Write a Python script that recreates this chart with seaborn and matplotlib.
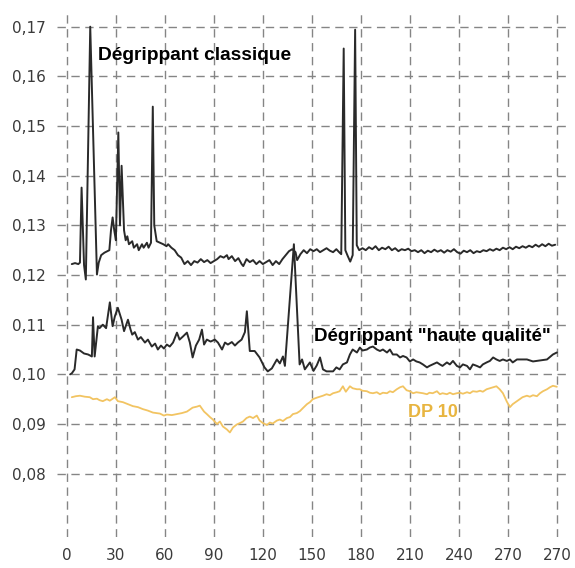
import matplotlib
matplotlib.use("Agg")
import matplotlib.pyplot as plt
import seaborn as sns
import pandas as pd

# Dégrippant classique
x_classique = [3, 5, 7, 8, 9, 10.5, 11.6, 14.3, 18.4, 19.5, 21, 23, 26, 27, 28, 29, 30, 31.5, 32.5,
               33.5, 35, 36, 37, 38, 40, 41, 43, 44, 46, 47, 49, 50, 51.5, 52.6, 53.5, 55, 57, 59,
               61, 62, 64, 66, 68, 70, 72, 74, 76, 78, 80, 82, 84, 86, 88, 90, 92, 94, 96, 98, 99,
               101, 103, 105, 107, 108, 110, 112, 114, 116, 118, 120, 122, 124, 126, 128, 130, 132,
               134, 136, 138, 140, 141, 143, 145, 147, 149, 151, 153, 155, 157, 159, 161, 163, 165,
               167, 168, 169.5, 170.5, 172, 173.5, 175, 176.5, 177.5, 179, 181, 183, 185, 187, 189,
               191, 193, 195, 197, 199, 201, 203, 205, 207, 209, 211, 213, 215, 217, 219, 221, 223,
               225, 227, 229, 231, 233, 235, 237, 239, 241, 243, 245, 247, 249, 251, 253, 255, 257,
               259, 261, 263, 265, 267, 269, 271, 273, 275, 277, 279, 281, 283, 285, 287, 289, 291,
               293, 295, 297, 299]
y_classique = [0.1222, 0.1224, 0.1222, 0.1225, 0.1376, 0.1220, 0.1191, 0.1700, 0.1201, 0.1225,
               0.1240, 0.1245, 0.1250, 0.1290, 0.1316, 0.1290, 0.1270, 0.1487, 0.1300, 0.1420,
               0.1290, 0.1270, 0.1278, 0.1262, 0.1268, 0.1255, 0.1262, 0.1250, 0.1262, 0.1255,
               0.1265, 0.1255, 0.1265, 0.1539, 0.1300, 0.1268, 0.1265, 0.1262, 0.1258, 0.1262,
               0.1255, 0.1250, 0.1240, 0.1235, 0.1222, 0.1228, 0.1220, 0.1228, 0.1225, 0.1232,
               0.1226, 0.1230, 0.1224, 0.1228, 0.1232, 0.1238, 0.1235, 0.1240, 0.1232, 0.1238,
               0.1228, 0.1234, 0.1222, 0.1218, 0.1232, 0.1226, 0.1230, 0.1222, 0.1228, 0.1222,
               0.1226, 0.1230, 0.1220, 0.1228, 0.1222, 0.1232, 0.1240, 0.1248, 0.1252, 0.1246,
               0.1230, 0.1242, 0.1250, 0.1244, 0.1252, 0.1248, 0.1252, 0.1246, 0.1250, 0.1254,
               0.1249, 0.1246, 0.1252, 0.1245, 0.1242, 0.1656, 0.1250, 0.1238, 0.1227, 0.1240,
               0.1694, 0.1260, 0.1250, 0.1254, 0.1250, 0.1256, 0.1252, 0.1258, 0.1250, 0.1255,
               0.1252, 0.1257, 0.1250, 0.1254, 0.1248, 0.1252, 0.1250, 0.1253, 0.1248, 0.1250,
               0.1246, 0.1250, 0.1244, 0.1249, 0.1246, 0.1251, 0.1247, 0.1250, 0.1245, 0.1250,
               0.1247, 0.1252, 0.1246, 0.1243, 0.1249, 0.1246, 0.1250, 0.1244, 0.1248, 0.1246,
               0.1250, 0.1248, 0.1252, 0.1249, 0.1253, 0.1250, 0.1255, 0.1252, 0.1256, 0.1252,
               0.1257, 0.1254, 0.1258, 0.1255, 0.1259, 0.1256, 0.1261, 0.1257, 0.1262, 0.1258,
               0.1263, 0.1259, 0.1261]

# Dégrippant "haute qualité"
x_haute = [2, 3, 4.7, 6, 8, 10.5, 13, 15.3, 16, 17, 19, 20, 22, 24, 26.3, 28, 29.4, 31.2, 33.5, 35,
           37.4, 39, 40, 41.6, 43.5, 45.3, 47.8, 49.6, 52, 54, 55.7, 57.6, 59.4, 61.2, 63, 65, 67.4,
           69, 71, 73.5, 75.3, 77, 79, 81, 82.7, 84, 85.7, 88, 90.6, 92.5, 95, 96.8, 98.6, 101,
           102.9, 104.7, 107, 109, 110.2, 112, 115, 118, 121, 123, 125.5, 128.6, 130.4, 132.3,
           133.5, 139, 142.5, 144, 145.7, 148.8, 151, 153, 155, 156.8, 159, 161, 163, 165, 167,
           169, 171.5, 173.3, 175, 177.6, 179.4, 181, 183.7, 185.5, 187.4, 189.8, 191.7, 193.5,
           196, 197.8, 199.6, 202, 204, 205.8, 208, 210, 212, 214, 216, 218, 220.5, 222, 224,
           226.6, 228.4, 230, 232.7, 234.5, 236.4, 238.8, 240.7, 242.5, 245, 246.8, 248.6, 251,
           253, 254.7, 257, 259, 261, 263, 265, 267, 269.4, 271.3, 273, 275.6, 277.4, 281.7,
           285.4, 289.7, 294, 297.6, 300]
y_haute = [0.1000, 0.1002, 0.1010, 0.1050, 0.1048, 0.1042, 0.1040, 0.1036, 0.1115, 0.1036, 0.1097,
           0.1093, 0.1100, 0.1093, 0.1145, 0.1097, 0.1117, 0.1134, 0.1110, 0.1087, 0.1110, 0.1090,
           0.1080, 0.1085, 0.1070, 0.1075, 0.1064, 0.1070, 0.1056, 0.1062, 0.1050, 0.1058, 0.1052,
           0.1060, 0.1056, 0.1064, 0.1084, 0.1070, 0.1076, 0.1084, 0.1064, 0.1034, 0.1058, 0.1070,
           0.1090, 0.1060, 0.1070, 0.1066, 0.1070, 0.1064, 0.1050, 0.1064, 0.1060, 0.1065, 0.1058,
           0.1064, 0.1070, 0.1085, 0.1127, 0.1047, 0.1047, 0.1034, 0.1014, 0.1006, 0.1012, 0.1030,
           0.1022, 0.1036, 0.1017, 0.1262, 0.1020, 0.1030, 0.1010, 0.1024, 0.1007, 0.1018, 0.1034,
           0.1010, 0.1006, 0.1006, 0.1006, 0.1014, 0.1010, 0.1020, 0.1024, 0.1040, 0.1050, 0.1044,
           0.1054, 0.1048, 0.1050, 0.1054, 0.1056, 0.1050, 0.1047, 0.1050, 0.1044, 0.1050, 0.1040,
           0.1040, 0.1034, 0.1037, 0.1034, 0.1026, 0.1030, 0.1026, 0.1024, 0.1020, 0.1014, 0.1017,
           0.1020, 0.1024, 0.1020, 0.1017, 0.1024, 0.1020, 0.1027, 0.1017, 0.1014, 0.1020, 0.1017,
           0.1010, 0.1020, 0.1017, 0.1014, 0.1020, 0.1024, 0.1027, 0.1034, 0.1030, 0.1027, 0.1030,
           0.1027, 0.1030, 0.1024, 0.1030, 0.1030, 0.1030, 0.1026, 0.1028, 0.1030, 0.1040, 0.1044]

# DP 10
x_dp10 = [3, 5.5, 8, 11, 14, 16, 18.4, 20, 22, 24.5, 26.3, 29.4, 31.2, 34.3, 37.4, 40.4, 43.5, 46.5,
          49.6, 52.7, 55, 57, 59.4, 61.2, 64.3, 67.4, 70.4, 73.5, 75.3, 77, 79.6, 81.4, 84, 85.7,
          87.6, 89.4, 91.9, 93.7, 95.5, 98, 99.8, 101.7, 104, 106, 107.8, 110, 112, 114, 116.3, 118,
          120, 122.5, 124.3, 126, 128.6, 130.4, 132.3, 134.7, 136.6, 138.4, 140.8, 142.7, 144.5, 147,
          148.8, 150.6, 153, 155, 156.8, 159, 161, 163, 165.3, 167, 169, 170.8, 173.3, 175, 177.6,
          179.4, 181, 183.7, 185.5, 187.4, 189.8, 191.7, 193.5, 196, 197.8, 199.6, 202, 204, 205.8,
          208, 210, 212, 214, 216, 218, 220.5, 222, 224, 226.6, 228.4, 230, 232.7, 234.5, 236.4,
          238.8, 240.7, 242.5, 245, 246.8, 248.6, 251, 253, 254.7, 257, 259, 261, 263, 265, 267,
          269.4, 271.3, 273, 275.6, 277.4, 279, 281.7, 283.5, 285.4, 287.8, 289.7, 291.5, 294,
          295.8, 297.6, 300]
y_dp10 = [0.0954, 0.0956, 0.0957, 0.0955, 0.0954, 0.0950, 0.0951, 0.0948, 0.0946, 0.0950, 0.0947,
          0.0954, 0.0946, 0.0944, 0.0940, 0.0936, 0.0934, 0.0930, 0.0927, 0.0923, 0.0922, 0.0921,
          0.0917, 0.0919, 0.0918, 0.0920, 0.0922, 0.0925, 0.0929, 0.0933, 0.0935, 0.0937, 0.0925,
          0.0920, 0.0914, 0.0909, 0.0900, 0.0905, 0.0895, 0.0889, 0.0883, 0.0893, 0.0899, 0.0902,
          0.0905, 0.0912, 0.0915, 0.0912, 0.0917, 0.0907, 0.0902, 0.0898, 0.0903, 0.0901, 0.0907,
          0.0909, 0.0906, 0.0912, 0.0914, 0.0920, 0.0922, 0.0926, 0.0932, 0.0940, 0.0944, 0.0950,
          0.0953, 0.0955, 0.0957, 0.0960, 0.0958, 0.0962, 0.0964, 0.0966, 0.0976, 0.0965, 0.0976,
          0.0972, 0.0970, 0.0970, 0.0967, 0.0966, 0.0963, 0.0962, 0.0964, 0.0960, 0.0963, 0.0962,
          0.0966, 0.0964, 0.0970, 0.0974, 0.0976, 0.0968, 0.0966, 0.0962, 0.0964, 0.0963, 0.0962,
          0.0960, 0.0963, 0.0962, 0.0966, 0.0960, 0.0962, 0.0960, 0.0963, 0.0960, 0.0962, 0.0963,
          0.0961, 0.0964, 0.0962, 0.0966, 0.0965, 0.0967, 0.0965, 0.0970, 0.0972, 0.0974, 0.0976,
          0.0970, 0.0962, 0.0945, 0.0934, 0.0940, 0.0946, 0.0950, 0.0954, 0.0957, 0.0955, 0.0958,
          0.0956, 0.0962, 0.0966, 0.0970, 0.0974, 0.0977, 0.0975]

x_ticks = [0, 30, 60, 90, 120, 150, 180, 210, 240, 270, 300]
x_labels = ["0", "30", "60", "90", "120", "150", "180", "210", "240", "270", "270"]
y_ticks = [0.08, 0.09, 0.10, 0.11, 0.12, 0.13, 0.14, 0.15, 0.16, 0.17]
y_labels = ["0,08", "0,09", "0,10", "0,11", "0,12", "0,13", "0,14", "0,15", "0,16", "0,17"]

sns.set_style("white")
plt.rcParams['font.family'] = ['DejaVu Sans']

fig = plt.figure(figsize=(5.75, 5.68), dpi=100)
ax = fig.add_axes([0.099, 0.055, 0.887, 0.9225])

df_c = pd.DataFrame({"x": x_classique, "y": y_classique})
df_h = pd.DataFrame({"x": x_haute, "y": y_haute})
df_d = pd.DataFrame({"x": x_dp10, "y": y_dp10})

sns.lineplot(data=df_d, x="x", y="y", ax=ax, color="#f2c462", lw=1.3, sort=False, estimator=None, zorder=3)
sns.lineplot(data=df_h, x="x", y="y", ax=ax, color="#2a2a2a", lw=1.4, sort=False, estimator=None, zorder=4)
sns.lineplot(data=df_c, x="x", y="y", ax=ax, color="#2a2a2a", lw=1.4, sort=False, estimator=None, zorder=5)

ax.set_xlim(-6.1, 306.2)
ax.set_ylim(0.0673, 0.1728)
ax.set_xticks(x_ticks)
ax.set_xticklabels(x_labels)
ax.set_yticks(y_ticks)
ax.set_yticklabels(y_labels)
ax.tick_params(axis="both", length=0, labelsize=11, labelcolor="#3a3a3a")
ax.tick_params(axis="x", pad=8)
ax.tick_params(axis="y", pad=8)
ax.set_xlabel("")
ax.set_ylabel("")
for s in ax.spines.values():
    s.set_visible(False)
ax.grid(True, color="#858585", lw=1.0, linestyle=(0, (6, 4)), zorder=1)
ax.set_axisbelow(True)

# labels on the curves
ax.text(19, 0.1641, "Dégrippant classique", fontsize=13.8, fontweight="bold",
        family="Liberation Sans", color="black", va="center", ha="left", zorder=6)
ax.text(151.5, 0.1076, 'Dégrippant "haute qualité"', fontsize=13.5, fontweight="bold",
        family="Liberation Sans", color="black", va="center", ha="left", zorder=6)
ax.text(209, 0.0924, "DP 10", fontsize=13, fontweight="bold",
        family="Liberation Sans", color="#e8b540", va="center", ha="left", zorder=6)

fig.savefig("out.png", dpi=100)
